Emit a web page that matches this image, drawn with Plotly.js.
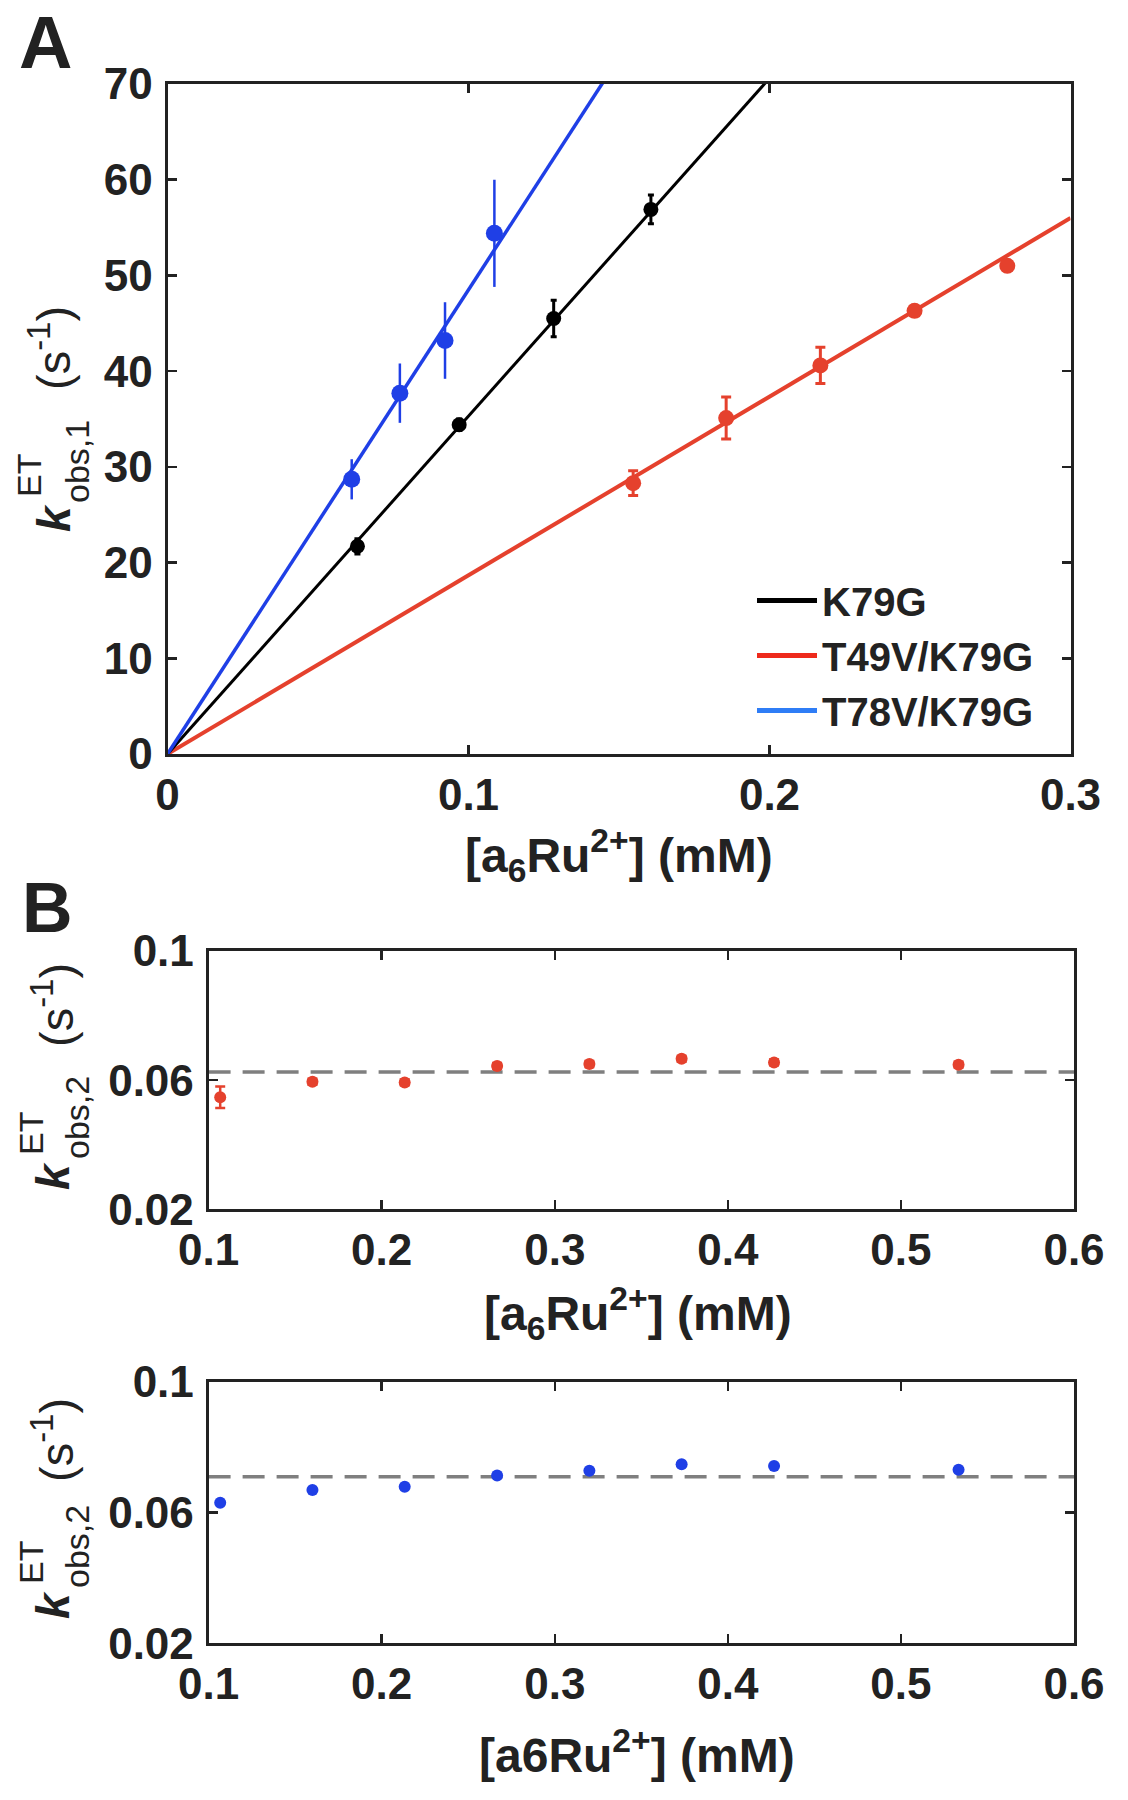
<!DOCTYPE html>
<html>
<head>
<meta charset="utf-8">
<script src="https://cdn.plot.ly/plotly-3.0.1.min.js"></script>
<style>html,body{margin:0;padding:0;background:#fff;}#chart{width:1128px;height:1800px;}</style>
</head>
<body>
<div id="chart"></div>
<script>
// ---------- Panel A data ----------
const blueX = [0.0612, 0.0772, 0.0922, 0.1086];
const blueY = [28.7, 37.7, 43.2, 54.4];
const blueErr = [2.1, 3.1, 4.0, 5.6];

const blackX = [0.0631, 0.0969, 0.1283, 0.1606];
const blackY = [21.7, 34.4, 45.5, 56.9];
const blackErr = [0.8, 0.6, 1.9, 1.5];

const redX = [0.1547, 0.1856, 0.2169, 0.2482, 0.2790];
const redY = [28.3, 35.1, 40.6, 46.3, 51.0];
const redErr = [1.3, 2.2, 1.9, 0.5, 0.4];

// fitted lines (end points)
const fitX = [0, 0.3];
const blueFitY = [0, 145.5];
const blackFitY = [0, 105.9];
const redFitY = [0, 56.0];

const legendNames = ['K79G', 'T49V/K79G', 'T78V/K79G'];

const aXTicks = [0, 0.1, 0.2, 0.3];
const aXTickText = ['0', '0.1', '0.2', '0.3'];
const aYTicks = [0, 10, 20, 30, 40, 50, 60, 70];

// ---------- Panel B data ----------
const bX = [0.1067, 0.16, 0.2133, 0.2667, 0.32, 0.3733, 0.4267, 0.5333];
const bRedY = [0.0547, 0.0595, 0.0593, 0.0644, 0.0650, 0.0666, 0.0655, 0.0648];
const bRedErr = [0.0033, 0.0009, 0.0009, 0.0009, 0.0009, 0.0009, 0.0009, 0.0009];
const bBlueY = [0.0630, 0.0669, 0.0679, 0.0714, 0.0728, 0.0748, 0.0743, 0.0731];
const bBlueErr = [0.0008, 0.0008, 0.0008, 0.0008, 0.0008, 0.0008, 0.0008, 0.0008];
const meanX = [0.1, 0.6];
const redMean = [0.0625, 0.0625];
const blueMean = [0.0710, 0.0710];

const bXTicks = [0.1, 0.2, 0.3, 0.4, 0.5, 0.6];
const bXTickText = ['0.1', '0.2', '0.3', '0.4', '0.5', '0.6'];
const bYTicks = [0.02, 0.06, 0.1];
const bYTickText = ['0.02', '0.06', '0.1'];

// ---------- styling ----------
const FAM = 'Liberation Sans, Arial, sans-serif';
const INK = '#222222';
const RED = '#e5412d';
const BLUE = '#1f3fe6';
const BLACK = '#000000';
const W = 1128, H = 1800;
const px = v => v / W;
const py = v => 1 - v / H;

const traces = [];
// Panel A fits
traces.push({x: fitX, y: redFitY, mode: 'lines', line: {color: RED, width: 4}, xaxis: 'x', yaxis: 'y', showlegend: false, hoverinfo: 'skip'});
traces.push({x: fitX, y: blackFitY, mode: 'lines', line: {color: BLACK, width: 3}, xaxis: 'x', yaxis: 'y', showlegend: false, hoverinfo: 'skip'});
traces.push({x: fitX, y: blueFitY, mode: 'lines', line: {color: BLUE, width: 3.5}, xaxis: 'x', yaxis: 'y', showlegend: false, hoverinfo: 'skip'});
// Panel A points
traces.push({x: redX, y: redY, mode: 'markers', marker: {color: RED, size: 16}, error_y: {type: 'data', array: redErr, visible: true, color: RED, thickness: 3, width: 5}, xaxis: 'x', yaxis: 'y', showlegend: false});
traces.push({x: blackX, y: blackY, mode: 'markers', marker: {color: BLACK, size: 15}, error_y: {type: 'data', array: blackErr, visible: true, color: BLACK, thickness: 3, width: 3}, xaxis: 'x', yaxis: 'y', showlegend: false});
traces.push({x: blueX, y: blueY, mode: 'markers', marker: {color: BLUE, size: 17}, error_y: {type: 'data', array: blueErr, visible: true, color: BLUE, thickness: 2.5, width: 0}, xaxis: 'x', yaxis: 'y', showlegend: false});
// legend entries
const legColors = [BLACK, '#ee2a1c', '#2f7df6'];
legendNames.forEach((n, i) => {
  traces.push({x: [null], y: [null], mode: 'lines', name: n, line: {color: legColors[i], width: 5}, xaxis: 'x', yaxis: 'y', showlegend: true});
});
// Panel B1
traces.push({x: meanX, y: redMean, mode: 'lines', line: {color: '#7f7f7f', width: 3.5, dash: '22px,12px'}, xaxis: 'x2', yaxis: 'y2', showlegend: false, hoverinfo: 'skip'});
traces.push({x: bX, y: bRedY, mode: 'markers', marker: {color: RED, size: 12}, error_y: {type: 'data', array: bRedErr, visible: true, color: RED, thickness: 2.5, width: 5}, xaxis: 'x2', yaxis: 'y2', showlegend: false});
// Panel B2
traces.push({x: meanX, y: blueMean, mode: 'lines', line: {color: '#7f7f7f', width: 3.5, dash: '22px,12px'}, xaxis: 'x3', yaxis: 'y3', showlegend: false, hoverinfo: 'skip'});
traces.push({x: bX, y: bBlueY, mode: 'markers', marker: {color: BLUE, size: 12}, error_y: {type: 'data', array: bBlueErr, visible: true, color: BLUE, thickness: 2.5, width: 3}, xaxis: 'x3', yaxis: 'y3', showlegend: false});

const tickFont = {family: FAM, size: 44, color: INK, weight: 'bold'};
function ax(extra) {
  return Object.assign({
    showline: true, mirror: 'ticks', linecolor: INK, linewidth: 3,
    ticks: 'inside', ticklen: 9, tickwidth: 2.5, tickcolor: INK,
    showgrid: false, zeroline: false, tickfont: tickFont, fixedrange: true,
    tickmode: 'array'
  }, extra);
}

const layout = {
  width: W, height: H,
  margin: {l: 0, r: 0, t: 0, b: 0},
  paper_bgcolor: '#ffffff', plot_bgcolor: '#ffffff',
  showlegend: true,
  legend: {x: px(752), y: py(568), xanchor: 'left', yanchor: 'top', bgcolor: 'rgba(0,0,0,0)',
           font: {family: FAM, size: 40, color: INK, weight: 'bold'}, tracegroupgap: 0, itemwidth: 60},
  xaxis: ax({domain: [px(167.5), px(1070.5)], range: [0, 0.3], tickvals: aXTicks, ticktext: aXTickText, anchor: 'y', ticklabelstandoff: 0}),
  yaxis: ax({domain: [py(754), py(84)], range: [0, 70], tickvals: aYTicks, anchor: 'x', ticklabelstandoff: 3}),
  xaxis2: ax({domain: [px(208.6), px(1074)], range: [0.1, 0.6], tickvals: bXTicks, ticktext: bXTickText, anchor: 'y2', ticklabelstandoff: 0}),
  yaxis2: ax({domain: [py(1209.3), py(951)], range: [0.02, 0.1], tickvals: bYTicks, ticktext: bYTickText, anchor: 'x2', ticklabelstandoff: 3}),
  xaxis3: ax({domain: [px(208.6), px(1074)], range: [0.1, 0.6], tickvals: bXTicks, ticktext: bXTickText, anchor: 'y3', ticklabelstandoff: 0}),
  yaxis3: ax({domain: [py(1643.3), py(1382)], range: [0.02, 0.1], tickvals: bYTicks, ticktext: bYTickText, anchor: 'x3', ticklabelstandoff: 3}),
  annotations: []
};

function ann(text, cx, cy, size, opts) {
  layout.annotations.push(Object.assign({
    text: text, x: px(cx), y: py(cy), xref: 'paper', yref: 'paper',
    xanchor: 'center', yanchor: 'middle', showarrow: false,
    font: {family: FAM, size: size, color: INK}
  }, opts || {}));
}
function vt(text, cx, cy, size, weight, style) {
  ann(text, cx, cy, size, {textangle: -90, font: {family: FAM, size: size, color: INK, weight: weight || 'normal', style: style || 'normal'}});
}

// panel labels
ann('<b>A</b>', 45, 43, 74);
ann('<b>B</b>', 47, 908, 70);

// x titles
ann('<b>[a<sub>6</sub>Ru<sup>2+</sup>] (mM)</b>', 619, 856, 48);
ann('<b>[a<sub>6</sub>Ru<sup>2+</sup>] (mM)</b>', 638, 1313, 48);
ann('<b>[a6Ru<sup>2+</sup>] (mM)</b>', 637, 1752, 48);

// y titles, panel A
vt('k', 54, 518, 46, 'bold', 'italic');
vt('ET', 29, 476, 34);
vt('obs,1', 77, 462, 34);
vt('(s<sup>-1</sup>)', 50, 348, 47);
// panel B1
vt('k', 53, 1176, 46, 'bold', 'italic');
vt('ET', 31, 1134, 34);
vt('obs,2', 77, 1118, 34);
vt('(s<sup>-1</sup>)', 53, 1005, 47);
// panel B2
vt('k', 53, 1605, 46, 'bold', 'italic');
vt('ET', 31, 1563, 34);
vt('obs,2', 77, 1547, 34);
vt('(s<sup>-1</sup>)', 53, 1440, 47);

Plotly.newPlot('chart', traces, layout, {staticPlot: true, displayModeBar: false});
</script>
</body>
</html>
